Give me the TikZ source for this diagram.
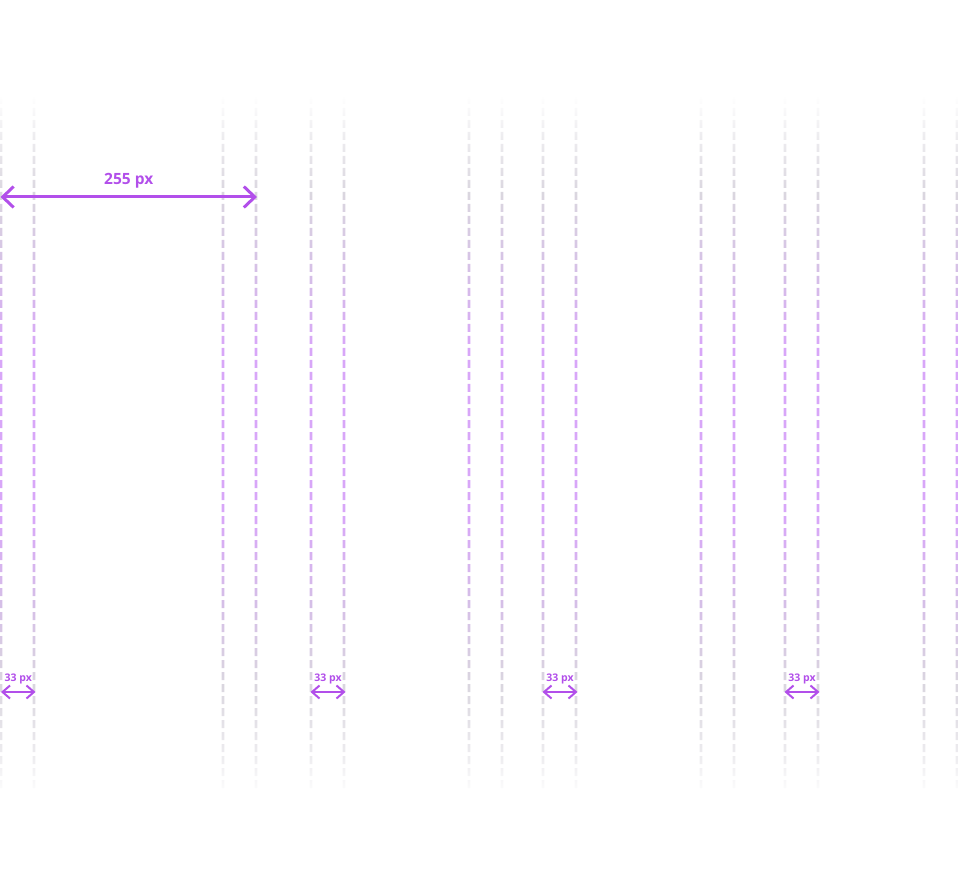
\documentclass[tikz,border=0pt]{standalone}
\usepackage{fontspec}
\setmainfont{Open Sans}
\usepackage{tikz}
\usetikzlibrary{arrows.meta}
\definecolor{accent}{HTML}{B24FEA}
\definecolor{fadegray}{HTML}{EDECEF}
\definecolor{guidegray}{HTML}{DAD6DF}
\definecolor{guidelav}{HTML}{D5BEE7}
\definecolor{guidepurple}{HTML}{D8A6F8}
% vertical fade of the guide lines (path maps to 25bp..75bp)
\pgfdeclareverticalshading{guidefade}{100bp}{%
  color(0bp)=(white); color(25bp)=(white); color(28bp)=(fadegray);
  color(33bp)=(guidegray); color(39bp)=(guidelav);
  color(45bp)=(guidepurple); color(57bp)=(guidepurple);
  color(62bp)=(guidelav); color(68bp)=(guidegray);
  color(72bp)=(fadegray); color(75bp)=(white); color(100bp)=(white)}

\begin{document}
\begin{tikzpicture}[
  x=1pt, y=-1pt,
  dimbig/.style={{Straight Barb[length=11pt, width=21pt]}-{Straight Barb[length=11pt, width=21pt]},
                 line width=3pt, color=accent},
  dimsmall/.style={{Straight Barb[length=7.5pt, width=13pt]}-{Straight Barb[length=7.5pt, width=13pt]},
                   line width=2pt, color=accent},
  lblbig/.style={font=\fontsize{15.5}{16}\selectfont\bfseries, text=accent, inner sep=0pt},
  lblsmall/.style={font=\fontsize{10.5}{11}\selectfont\bfseries, text=accent, inner sep=0pt}
]
\useasboundingbox (0,0) rectangle (959,885);
% Guide lines (dashed, faded at both ends)
\begin{scope}
  \clip \foreach \gx in {1,34,223,256,311,344,469,502,543,576,701,734,785,818,924,957} {
    \foreach \gy in {96,108,...,790} { (\gx-1.3,\gy) rectangle (\gx+1.3,\gy+8) }
  };
  \shade[shading=guidefade] (0,95) rectangle (959,798);
\end{scope}
% Column width
\coordinate (colL) at (0.5,197);
\coordinate (colR) at (257,197);
\draw[dimbig] (colL) -- node[lblbig, anchor=base, yshift=12.5pt] (collbl) {255 px} (colR);
% Gutter widths
\foreach \gl/\gr [count=\i] in {1/35.5, 310.5/345.5, 542.5/577.5, 784.5/819.5} {
  \coordinate (gutL\i) at (\gl,692);
  \coordinate (gutR\i) at (\gr,692);
  \draw[dimsmall] (gutL\i) -- node[lblsmall, anchor=base, yshift=11pt] (gutlbl\i) {33 px} (gutR\i);
}
\end{tikzpicture}
\end{document}
